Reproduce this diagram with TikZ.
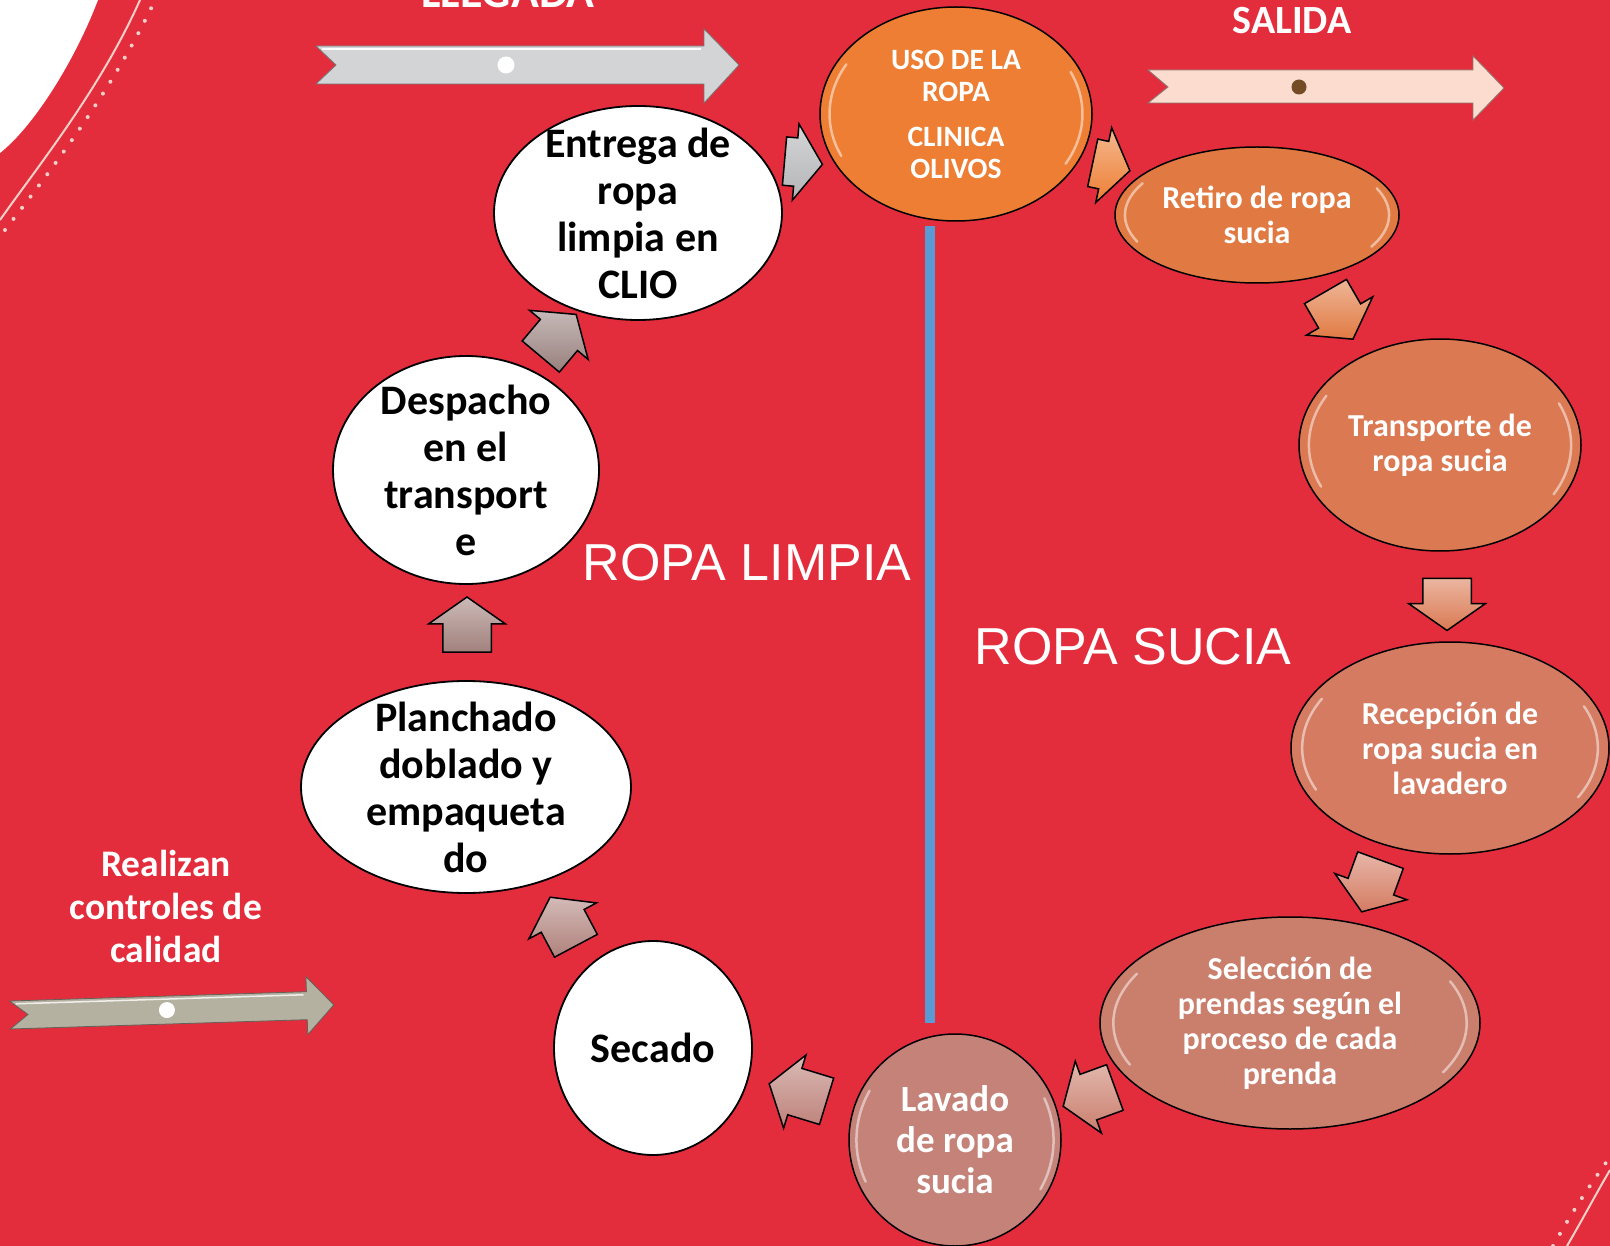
\documentclass[tikz,border=0pt]{standalone}
\usepackage{fontspec}
\setmainfont{Carlito}
\newfontfamily\arialfont{Liberation Sans}
\usetikzlibrary{shapes.geometric,shapes.arrows,calc}

\definecolor{bgred}{RGB}{227,45,60}
\definecolor{divblue}{RGB}{91,155,213}
\definecolor{usoorange}{RGB}{237,126,51}
\definecolor{retiroc}{RGB}{225,122,66}
\definecolor{transpc}{RGB}{218,121,82}
\definecolor{recepc}{RGB}{212,123,98}
\definecolor{selecc}{RGB}{202,126,108}
\definecolor{lavadoc}{RGB}{196,130,121}
\definecolor{llegadagray}{RGB}{211,212,214}
\definecolor{salidapink}{RGB}{251,220,207}
\definecolor{controlgray}{RGB}{180,177,161}
\definecolor{paleline}{RGB}{246,208,200}

\tikzset{
  gloss/.style={white, line width=2.5pt, opacity=0.5, line cap=round},
  stepwhite/.style={ellipse, draw=black, line width=1.8pt, fill=white, inner sep=0pt},
  steporange/.style={ellipse, draw=black, line width=1.5pt, fill=#1, inner sep=0pt,
    path picture={
      \draw[gloss] let \p1=(path picture bounding box.north east), \p2=(path picture bounding box.center) in
        ($(\p2)+({0.93*(\x1-\x2)*cos(205)},{0.93*(\y1-\y2)*sin(205)})$)
        arc[start angle=205, end angle=150, x radius={0.93*(\x1-\x2)}, y radius={0.93*(\y1-\y2)}];
      \draw[gloss] let \p1=(path picture bounding box.north east), \p2=(path picture bounding box.center) in
        ($(\p2)+({0.93*(\x1-\x2)*cos(25)},{0.93*(\y1-\y2)*sin(25)})$)
        arc[start angle=25, end angle=-30, x radius={0.93*(\x1-\x2)}, y radius={0.93*(\y1-\y2)}];
    }},
  whitetext/.style={align=center, inner sep=0pt, font=\bfseries\fontsize{42}{47}\selectfont},
  orangetext/.style={align=center, inner sep=0pt, text=white, font=\bfseries\fontsize{32}{35}\selectfont},
  cycarrow/.style={single arrow, draw=black, line width=1.5pt, inner xsep=0pt, inner ysep=23.5pt,
    top color=#1!55!white, bottom color=#1, single arrow head extend=14pt, single arrow tip angle=110},
  bigarrow/.style={fill=#1, draw=#1!55!black, line width=0.8pt},
  sidelabel/.style={text=white, align=center, inner sep=0pt, font=\bfseries\fontsize{37.5}{43}\selectfont},
  biglabel/.style={text=white, anchor=base, inner sep=0pt, font=\arialfont\fontsize{52}{60}\selectfont},
  divider/.style={draw=divblue, line width=10pt}
}

\begin{document}
\begin{tikzpicture}[x=1pt,y=-1pt]
\useasboundingbox (0,0) rectangle (1610,1246);
\clip (0,0) rectangle (1610,1246);
\fill[bgred] (0,0) rectangle (1610,1246);

% corner decorations
\fill[white] (0,0) -- (98,0) .. controls (75,60) and (35,125) .. (0,153) -- cycle;
\draw[paleline, line width=2pt] (0,220) .. controls (35,170) and (100,90) .. (140,0);
\draw[paleline, line width=4pt, line cap=round, dash pattern=on 0pt off 14pt] (5,230) .. controls (45,178) and (112,92) .. (155,0);
\draw[paleline, line width=2pt] (1567,1246) .. controls (1585,1215) and (1597,1192) .. (1610,1170);
\draw[paleline, line width=4pt, line cap=round, dash pattern=on 0pt off 14pt] (1553,1246) .. controls (1572,1212) and (1590,1185) .. (1610,1157);

% big arrows
\draw[bigarrow=llegadagray] (316,46) -- (704,46) -- (704,29) -- (739,65) -- (704,103) -- (704,84) -- (316,84) -- (336,65) -- cycle;
\draw[white, line width=2pt] (322,49) -- (701,49);
\fill[white] (506,65) circle (8.5);
\draw[bigarrow=salidapink] (1148,70) -- (1473,70) -- (1473,56) -- (1504,88) -- (1473,120) -- (1473,103) -- (1148,103) -- (1168,87) -- cycle;
\fill[brown!60!black] (1299,87) circle (7.5);
\begin{scope}[shift={(10,1015)}, rotate=1.8]
\draw[bigarrow=controlgray] (0,-14) -- (297,-14) -- (297,-29) -- (324,0) -- (297,29) -- (297,14) -- (0,14) -- (18,0) -- cycle;
\draw[white!80!controlgray, line width=1.5pt] (6,-11) -- (294,-11);
\fill[white] (157,0) circle (8);
\end{scope}

\node[text=white, anchor=base, inner sep=0pt, font=\bfseries\fontsize{46}{50}\selectfont] (llegada) at (508,8) {LLEGADA};
\node[text=white, anchor=base, inner sep=0pt, font=\bfseries\fontsize{40}{46}\selectfont] (salida) at (1292,34) {SALIDA};
\node[sidelabel] (controles) at (166,906) {Realizan\\controles de\\calidad};

% divider
\coordinate (divtop) at (930,226);
\coordinate (divbot) at (930,1023);
\draw[divider] (divtop) -- (divbot);
\node[biglabel] (limpia) at (747,580) {ROPA LIMPIA};
\node[biglabel] (sucia) at (1133,664) {ROPA SUCIA};

% steps, dirty side
\node[steporange=usoorange, minimum width=272pt, minimum height=214pt] (uso) at (956,114) {};
\node[orangetext, font=\bfseries\fontsize{29.5}{32}\selectfont] (uso-t) at (uso) {USO DE LA\\ROPA\\[13pt]CLINICA\\OLIVOS};
\node[steporange=retiroc, minimum width=284pt, minimum height=136pt] (retiro) at (1257,215) {};
\node[orangetext] (retiro-t) at (retiro) {Retiro de ropa\\sucia};
\node[steporange=transpc, minimum width=282pt, minimum height=212pt] (transporte) at (1440,445) {};
\node[orangetext] (transporte-t) at (transporte) {Transporte de\\ropa sucia};
\node[steporange=recepc, minimum width=318pt, minimum height=212pt] (recepcion) at (1450,748) {};
\node[orangetext] (recepcion-t) at (recepcion) {Recepción de\\ropa sucia en\\lavadero};
\node[steporange=selecc, minimum width=380pt, minimum height=212pt] (seleccion) at (1290,1023) {};
\node[orangetext] (seleccion-t) at (seleccion) {Selección de\\prendas según el\\proceso de cada\\prenda};
\node[steporange=lavadoc, minimum width=212pt, minimum height=212pt] (lavado) at (955,1140) {};
\node[orangetext, font=\bfseries\fontsize{37}{41}\selectfont] (lavado-t) at (lavado) {Lavado\\de ropa\\sucia};

% steps, clean side
\node[stepwhite, minimum width=198pt, minimum height=214pt] (secado) at (653,1048) {};
\node[whitetext] (secado-t) at (secado) {Secado};
\node[stepwhite, minimum width=330pt, minimum height=212pt] (planchado) at (466,787) {};
\node[whitetext] (planchado-t) at (planchado) {Planchado\\doblado y\\empaqueta\\do};
\node[stepwhite, minimum width=266pt, minimum height=228pt] (despacho) at (466,470) {};
\node[whitetext] (despacho-t) at (despacho) {Despacho\\en el\\transport\\e};
\node[stepwhite, minimum width=288pt, minimum height=214pt] (entrega) at (638,213) {};
\node[whitetext] (entrega-t) at (entrega) {Entrega de\\ropa\\limpia en\\CLIO};

% cycle arrows: x/y/angle/length/colour/name
\foreach \px/\py/\ang/\len/\col/\nm in {
  795/162/-5/38/llegadagray!85!black/a1, 1103/165/-12/38/usoorange/a2,
  1335/308/-60/55/retiroc/a3, 1447/596/-90/52/transpc/a4,
  1374/878/-110/55/recepc/a5, 1097/1094/-160/55/selecc/a6,
  806/1095/163/60/lavadoc!90!gray/a7, 567/929/118/55/lavadoc!70!gray/a8,
  467/633/90/55/lavadoc!50!gray/a9, 553/342/50/55/lavadoc!35!gray/a10}
  \node[cycarrow=\col, minimum height=\len pt, rotate=\ang] (\nm) at (\px,\py) {};
\end{tikzpicture}
\end{document}
